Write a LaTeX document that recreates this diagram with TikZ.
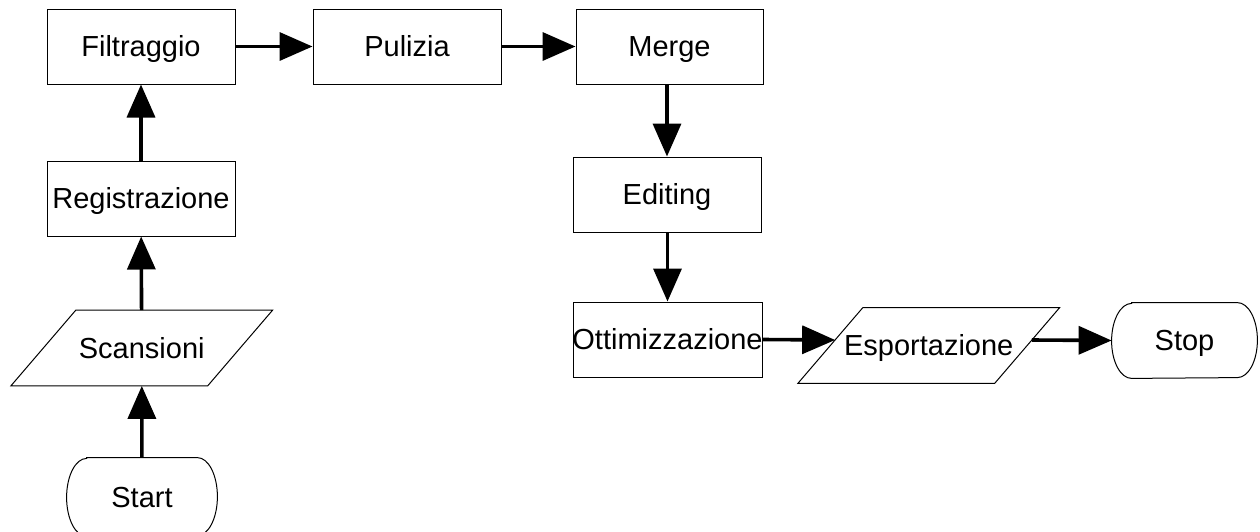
\documentclass[tikz,border=0pt]{standalone}
\usepackage{fontspec}
\setmainfont{Liberation Sans}
\usetikzlibrary{arrows.meta,calc}
\begin{document}
\begin{tikzpicture}[x=0.5pt,y=-0.5pt,
  lbl/.style={font=\fontsize{14.5pt}{17pt}\selectfont,text height=10.4pt,text depth=0pt},
  box/.style={lbl,draw=black,line width=0.5pt,rectangle,inner sep=0pt,minimum width=94pt,minimum height=37.5pt},
  plain/.style={lbl,rectangle,inner sep=0pt,minimum height=37.5pt},
  outline/.style={draw=black,line width=0.5pt},
  flow/.style={line width=1.8pt,-{Triangle[length=16.5pt,width=14pt]}}]
\useasboundingbox (0,0) rectangle (1260,531);
\clip (0,0) rectangle (1260,531);
% process boxes
\node[box] (filt) at (141,46.5) {Filtraggio};
\node[box] (puli) at (407,46.5) {Pulizia};
\node[box,minimum width=93.5pt] (merge) at (669.5,46.5) {Merge};
\node[box] (edit) at (667,194.5) {Editing};
\node[box,minimum width=94.5pt] (ott) at (667.5,339.5) {\makebox[0pt]{Ottimizzazione}};
\node[box] (reg) at (141,198.5) {Registrazione};
% parallelograms (data)
\node[plain,minimum width=98pt] (scan) at (141.75,348) {Scansioni};
\draw[outline] ($(scan.south west)+(-32.5,0)$) -- ($(scan.north west)+(32.5,0)$) -- ($(scan.north east)+(32.5,0)$) -- ($(scan.south east)+(-32.5,0)$) -- cycle;
\node[plain,minimum width=98pt] (esp) at (928.75,345.5) {Esportazione};
\draw[outline] ($(esp.south west)+(-32.5,0)$) -- ($(esp.north west)+(32.5,0)$) -- ($(esp.north east)+(32.5,0)$) -- ($(esp.south east)+(-32.5,0)$) -- cycle;
% terminals
\node[plain,minimum width=75pt,minimum height=39pt] (start) at (142,497) {Start};
\draw[outline] ([xshift=10pt]start.north west) -- ([xshift=-10pt]start.north east)
  arc[start angle=90,end angle=-90,x radius=10pt,y radius=19.5pt]
  -- ([xshift=10pt]start.south west)
  arc[start angle=270,end angle=90,x radius=10pt,y radius=19.5pt] -- cycle;
\node[plain,minimum width=72.5pt] (stop) at (1184.5,340.5) {Stop};
\draw[outline] ([xshift=10pt]stop.north west) -- ([xshift=-10pt]stop.north east)
  arc[start angle=90,end angle=-90,x radius=10pt,y radius=18.75pt]
  -- ([xshift=10pt]stop.south west)
  arc[start angle=270,end angle=90,x radius=10pt,y radius=18.75pt] -- cycle;
% connectors
\draw[flow] (start) -- (scan);
\draw[flow] (scan) -- (reg);
\draw[flow] (reg) -- (filt);
\draw[flow] (filt) -- (puli);
\draw[flow] (puli) -- (merge);
\draw[flow] (edit.north |- merge.south) -- (edit.north);
\draw[flow] (ott.north |- edit.south) -- (ott.north);
\draw[flow] (ott.east) -- ($(esp.west)+(4.8,-5.5)$);
\draw[flow] ($(esp.east)+(4.8,-5.5)$) -- (stop.west);
\end{tikzpicture}
\end{document}
